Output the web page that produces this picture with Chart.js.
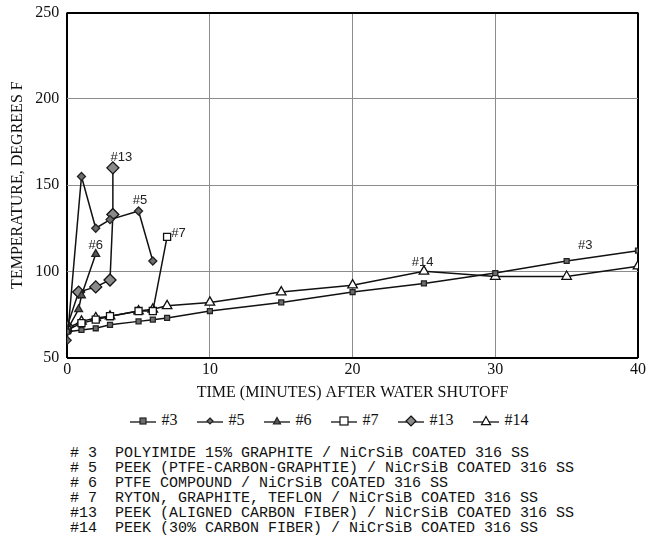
<!DOCTYPE html>
<html>
<head>
<meta charset="utf-8">
<script src="https://cdn.jsdelivr.net/npm/chart.js@4.4.1/dist/chart.umd.min.js"></script>
<style>
  body { margin: 0; background: #fff; width: 657px; height: 539px; overflow: hidden; }
  #wrap { position: relative; width: 657px; height: 402px; }
  #chart { position: absolute; top: -5px; left: 0; }
  #legend { position: absolute; top: 411px; left: 0; width: 657px; text-align: center;
            font-family: "Liberation Serif", "DejaVu Serif", serif; font-size: 16px; color: #111; }
  #legend span.item { display: inline-block; margin: 0 9px; white-space: nowrap; }
  #legend svg { vertical-align: middle; margin-right: 5px; }
  #notes { position: absolute; top: 446px; left: 70px; font-family: "Liberation Mono", "DejaVu Sans Mono", monospace;
           font-size: 15px; line-height: 15px; color: #111; white-space: pre; margin: 0; }
</style>
</head>
<body>
<div id="wrap"><canvas id="chart" width="657" height="407"></canvas></div>
<div id="legend"></div>
<pre id="notes"></pre>
<script>
// valeurs
const seriesNames = ['#3', '#5', '#6', '#7', '#13', '#14'];

const x3 = [0, 1, 2, 3, 5, 6, 7, 10, 15, 20, 25, 30, 35, 40];
const y3 = [65, 66, 67, 69, 71, 72, 73, 77, 82, 88, 93, 99, 106, 112];

const x5 = [0, 1, 2, 3, 5, 6];
const y5 = [60, 155, 125, 130, 135, 106];

const x6 = [0, 0.8, 1, 2];
const y6 = [66, 78, 86, 110];

const x7 = [0, 1, 2, 3, 5, 6, 7];
const y7 = [66, 70, 72, 74, 77, 77, 120];

const x13 = [0, 0.8, 2, 3, 3.2, 3.2];
const y13 = [68, 88, 91, 95, 133, 160];

const x14 = [0, 1, 2, 3, 5, 6, 7, 10, 15, 20, 25, 30, 35, 40];
const y14 = [67, 71, 73, 74, 77, 78, 80, 82, 88, 92, 100, 97, 97, 103];

const xTicks = [0, 10, 20, 30, 40];
const yTicks = [50, 100, 150, 200, 250];

// étiquettes dans le graphique (en coordonnées de données)
const noteText = ['#13', '#5', '#7', '#6', '#14', '#3'];
const noteX = [3.8, 5.1, 7.8, 2.0, 24.9, 36.3];
const noteY = [166, 141, 122, 115, 105, 115];

const descriptions = [
    '# 3  POLYIMIDE 15% GRAPHITE / NiCrSiB COATED 316 SS',
    '# 5  PEEK (PTFE-CARBON-GRAPHTIE) / NiCrSiB COATED 316 SS',
    '# 6  PTFE COMPOUND / NiCrSiB COATED 316 SS',
    '# 7  RYTON, GRAPHITE, TEFLON / NiCrSiB COATED 316 SS',
    '#13  PEEK (ALIGNED CARBON FIBER) / NiCrSiB COATED 316 SS',
    '#14  PEEK (30% CARBON FIBER) / NiCrSiB COATED 316 SS'
];

function pts(xs, ys) {
    return xs.map((v, i) => ({ x: v, y: ys[i] }));
}

const styles = [
    { pointStyle: 'rect', radius: 3.5, bg: '#6d6d6d', border: '#222' },
    { pointStyle: 'rectRot', radius: 4, bg: '#6d6d6d', border: '#222' },
    { pointStyle: 'triangle', radius: 4.5, bg: '#555', border: '#222' },
    { pointStyle: 'rect', radius: 5, bg: '#fff', border: '#111' },
    { pointStyle: 'rectRot', radius: 6, bg: '#8a8a8a', border: '#111' },
    { pointStyle: 'triangle', radius: 5.5, bg: '#fff', border: '#111' }
];

const allData = [pts(x3, y3), pts(x5, y5), pts(x6, y6), pts(x7, y7), pts(x13, y13), pts(x14, y14)];

const datasets = seriesNames.map((name, i) => ({
    label: name,
    data: allData[i],
    borderColor: '#111',
    borderWidth: 1.5,
    pointStyle: styles[i].pointStyle,
    pointRadius: styles[i].radius,
    pointBackgroundColor: styles[i].bg,
    pointBorderColor: styles[i].border,
    pointBorderWidth: 1.3,
    tension: 0,
    fill: false
}));

// petit plugin pour les étiquettes "#n" près des courbes
const notesPlugin = {
    id: 'notes',
    afterDatasetsDraw(chart) {
        const c = chart.ctx;
        const xs = chart.scales.x, ys = chart.scales.y;
        c.save();
        c.font = '13px "Liberation Sans", Arial, sans-serif';
        c.fillStyle = '#222';
        c.textAlign = 'center';
        c.textBaseline = 'middle';
        noteText.forEach((t, i) => {
            c.fillText(t, xs.getPixelForValue(noteX[i]), ys.getPixelForValue(noteY[i]));
        });
        c.restore();
    }
};

const serif = '"Liberation Serif", "Times New Roman", serif';

function edge(v, a, b) { return v === a || v === b; }

new Chart(document.getElementById('chart'), {
    type: 'line',
    data: { datasets: datasets },
    options: {
        responsive: false,
        animation: false,
        layout: { padding: { top: 6, right: 19, left: 8, bottom: 0 } },
        plugins: {
            legend: { display: false },
            tooltip: { enabled: false }
        },
        scales: {
            x: {
                type: 'linear',
                min: 0,
                max: 40,
                afterBuildTicks: (axis) => { axis.ticks = xTicks.map(v => ({ value: v })); },
                ticks: { color: '#111', font: { family: serif, size: 16 }, padding: 3 },
                grid: {
                    drawTicks: false,
                    color: (ctx) => (ctx.tick && edge(ctx.tick.value, 0, 40)) ? '#000' : '#8c8c8c',
                    lineWidth: (ctx) => (ctx.tick && edge(ctx.tick.value, 0, 40)) ? 2 : 1
                },
                border: { display: false },
                title: {
                    display: true,
                    text: 'TIME (MINUTES) AFTER WATER SHUTOFF',
                    color: '#111',
                    font: { family: serif, size: 16 },
                    padding: { top: 0, bottom: 0 }
                }
            },
            y: {
                min: 50,
                max: 250,
                afterBuildTicks: (axis) => { axis.ticks = yTicks.map(v => ({ value: v })); },
                ticks: { color: '#111', font: { family: serif, size: 16 }, padding: 8 },
                grid: {
                    drawTicks: false,
                    color: (ctx) => (ctx.tick && edge(ctx.tick.value, 50, 250)) ? '#000' : '#8c8c8c',
                    lineWidth: (ctx) => (ctx.tick && edge(ctx.tick.value, 50, 250)) ? 2 : 1
                },
                border: { display: false },
                title: {
                    display: true,
                    text: 'TEMPERATURE, DEGREES F',
                    color: '#111',
                    font: { family: serif, size: 16 },
                    padding: { top: 0, bottom: 0 }
                }
            }
        }
    },
    plugins: [notesPlugin]
});

// légende en HTML : segment de ligne + marqueur (plus petit que dans le graphique)
function markerSvg(i) {
    const s = styles[i];
    const cx = 14, cy = 9;
    const r = Math.max(3, s.radius - 1);
    let shape;
    if (s.pointStyle === 'rect') {
        shape = `<rect x="${cx - r}" y="${cy - r}" width="${2 * r}" height="${2 * r}" fill="${s.bg}" stroke="${s.border}" stroke-width="1.2"/>`;
    } else if (s.pointStyle === 'rectRot') {
        shape = `<polygon points="${cx},${cy - r} ${cx + r},${cy} ${cx},${cy + r} ${cx - r},${cy}" fill="${s.bg}" stroke="${s.border}" stroke-width="1.2"/>`;
    } else {
        shape = `<polygon points="${cx},${cy - r} ${cx + r},${cy + r * 0.8} ${cx - r},${cy + r * 0.8}" fill="${s.bg}" stroke="${s.border}" stroke-width="1.2"/>`;
    }
    return `<svg width="28" height="18"><line x1="1" y1="${cy + 1}" x2="27" y2="${cy + 1}" stroke="#111" stroke-width="1.3"/>${shape}</svg>`;
}

const legendDiv = document.getElementById('legend');
legendDiv.innerHTML = seriesNames.map((n, i) =>
    `<span class="item">${markerSvg(i)}${n}</span>`).join('');

document.getElementById('notes').textContent = descriptions.join('\n');
</script>
</body>
</html>
